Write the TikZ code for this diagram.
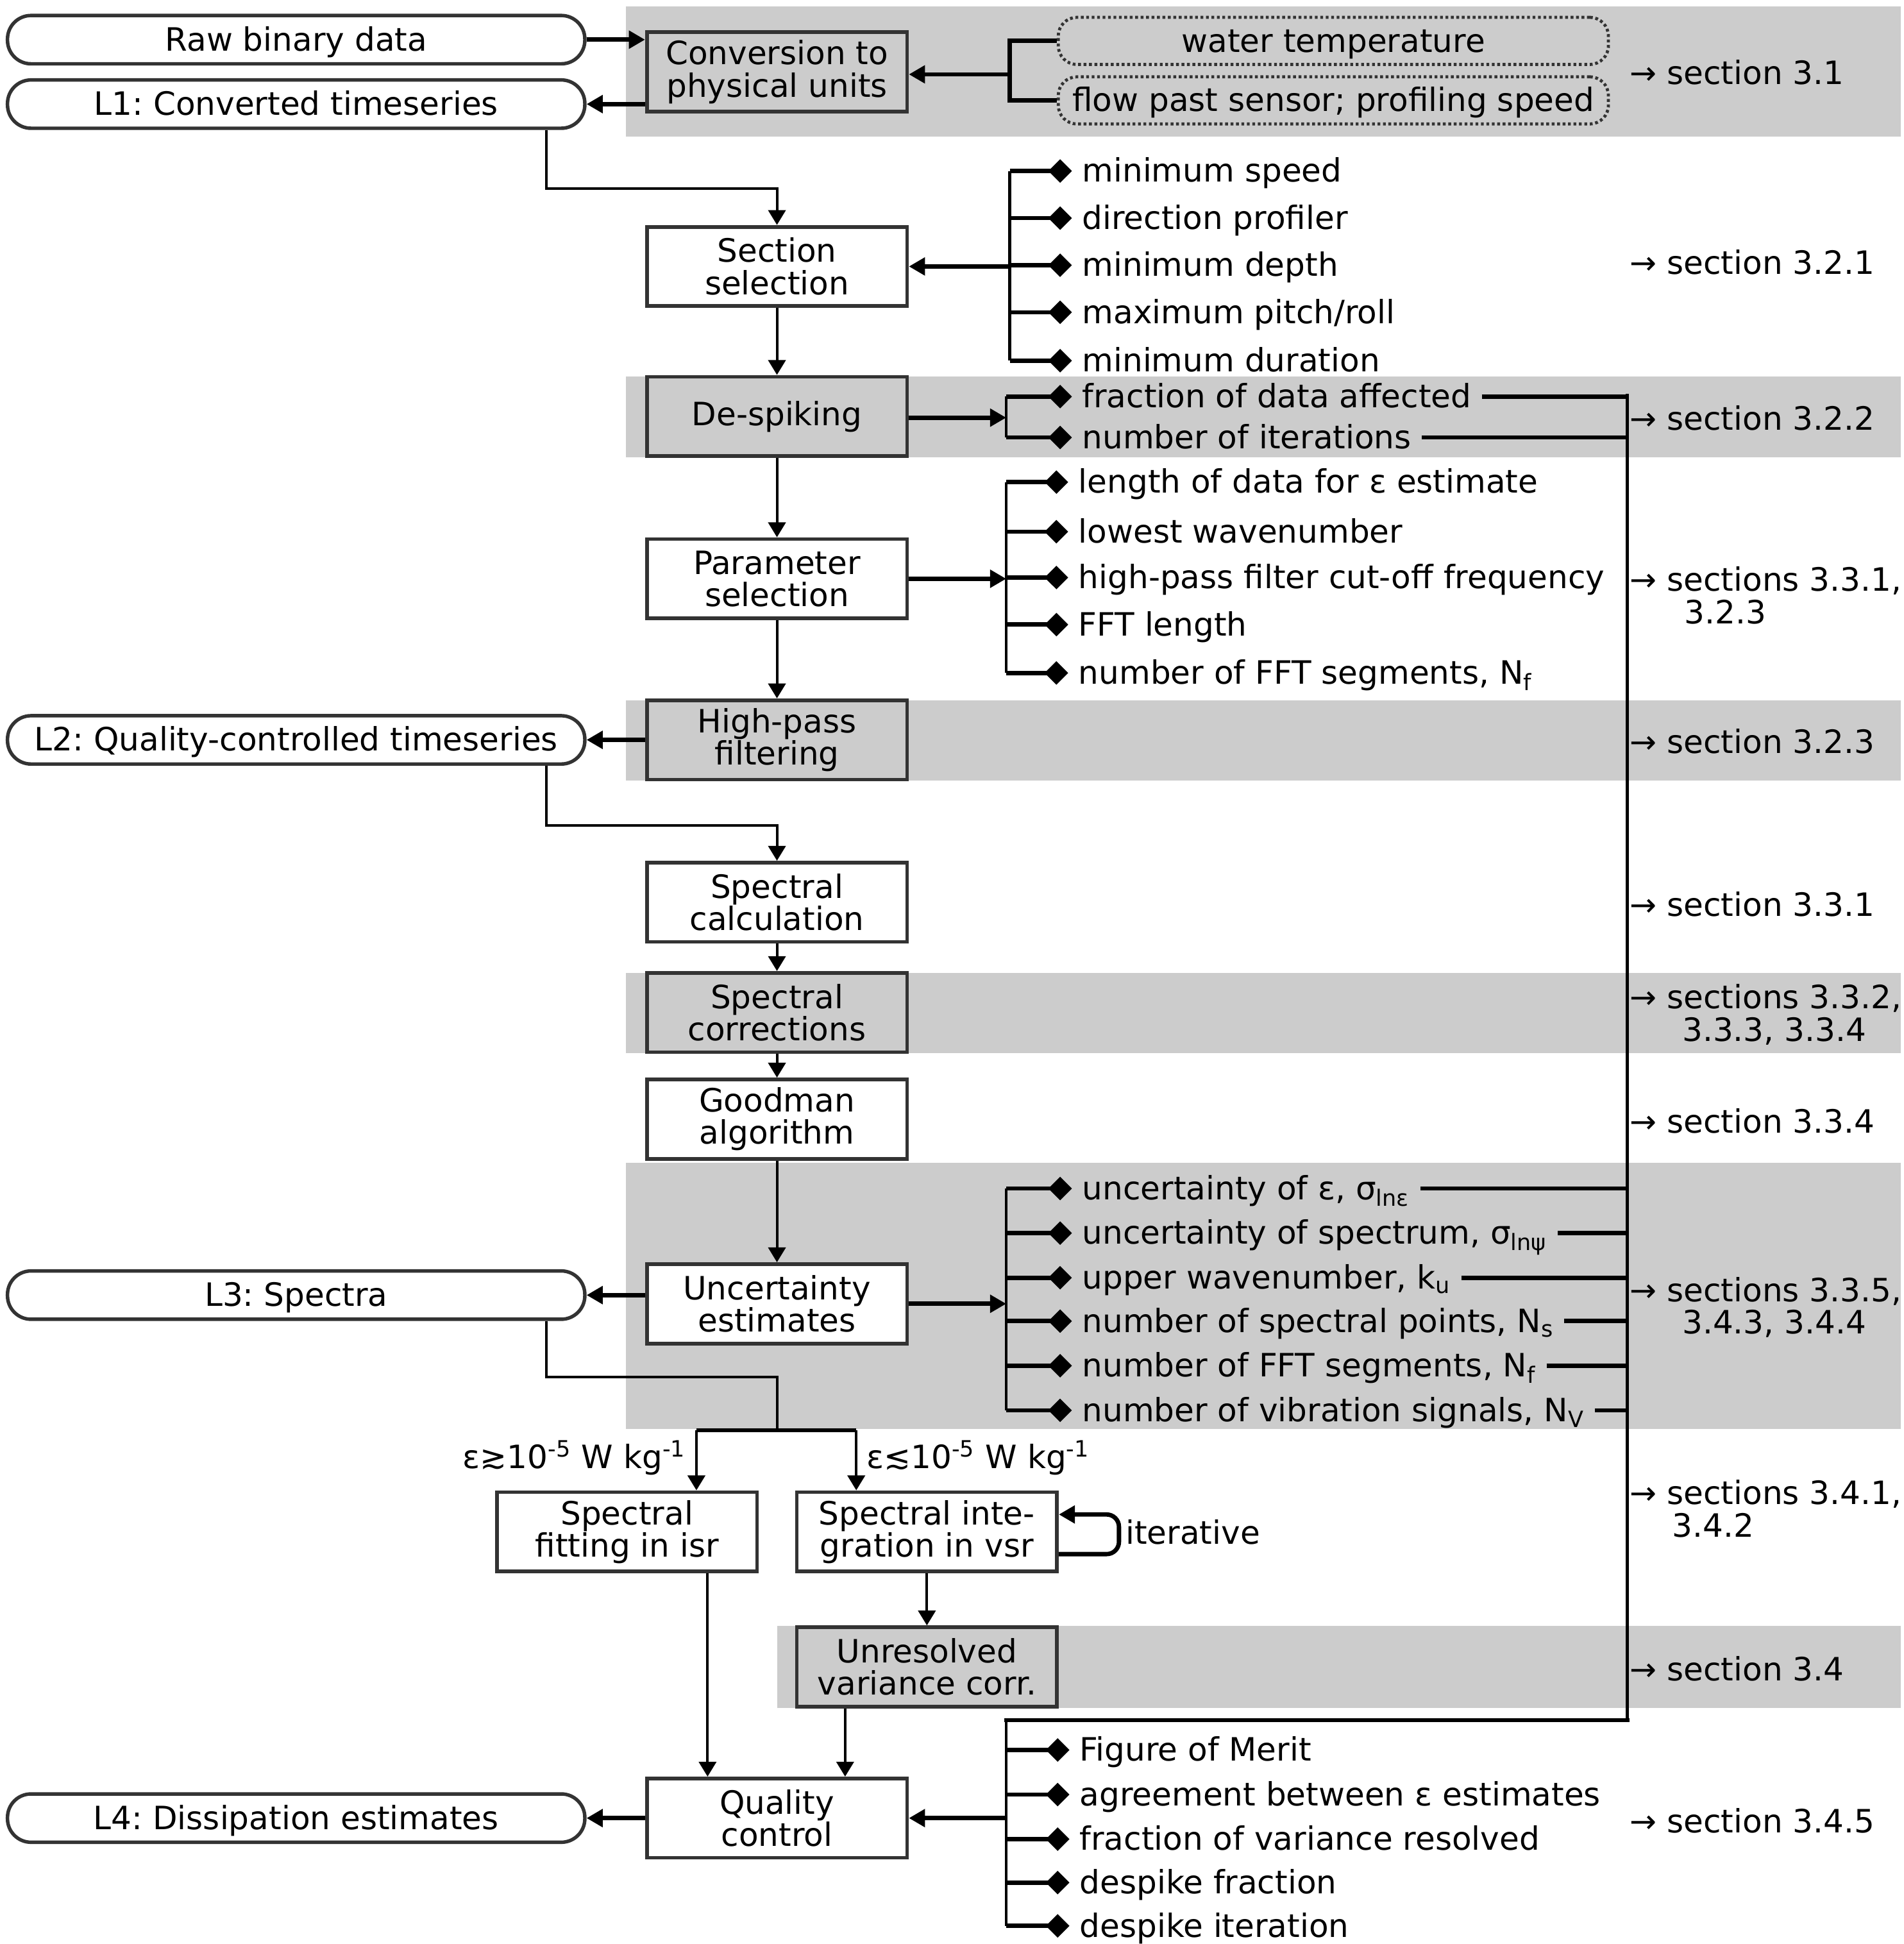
\documentclass[tikz,border=0pt]{standalone}
\usepackage{fontspec}
\setmainfont{DejaVu Sans}
\usetikzlibrary{arrows.meta}
\definecolor{band}{gray}{0.8}
\definecolor{edge}{gray}{0.2}

\begin{document}
\begin{tikzpicture}[x=0.02cm,y=-0.02cm,
  every node/.style={font=\fontsize{14.75pt}{14.8pt}\selectfont\frenchspacing},
  proc/.style={draw=edge,line width=1.7pt,fill=white,minimum width=4.2cm,minimum height=1.28cm,inner sep=0pt,align=center},
  procg/.style={proc,fill=band},
  term/.style={draw=edge,line width=1.6pt,fill=white,rounded corners=0.38cm,minimum width=9.32cm,minimum height=0.78cm,inner sep=0pt,text height=12.2pt,text depth=2pt},
  opt/.style={draw=edge,line width=1.4pt,dash pattern=on 1.3pt off 1.2pt,rounded corners=0.3cm,minimum width=8.88cm,minimum height=0.76cm,inner sep=0pt,text height=12.2pt,text depth=2pt},
  item/.style={anchor=west,inner xsep=0.16cm,inner ysep=0pt,text height=12.2pt,text depth=2pt},
  sec/.style={anchor=north west,inner sep=0pt,align=left},
  arr/.style={line width=1.2pt,-{Triangle[length=0.24cm,width=0.28cm]}},
  arrthick/.style={line width=2pt,-{Triangle[length=0.26cm,width=0.28cm]}},
  leaf/.style={line width=2pt,-{Diamond[length=0.38cm,width=0.38cm]}},
  brace/.style={line width=1.4pt},
  feed/.style={line width=2pt}]
\useasboundingbox (0,0) rectangle (1536,1568.6);

% grey bands
\foreach \xa/\ya/\yb in {505/5/110, 505/304/369, 505/565/630, 505/785/850, 505/938/1153, 627/1312/1378}
  \fill[band] (\xa,\ya) rectangle (1534,\yb);

% data levels
\node[term] (raw) at (239,32) {Raw binary data};
\node[term] (l1) at (239,84) {L1: Converted timeseries};
\node[term] (l2) at (239,597) {L2: Quality-controlled timeseries};
\node[term] (l3) at (239,1045) {L3: Spectra};
\node[term] (l4) at (239,1467) {L4: Dissipation estimates};

% processing steps
\node[procg] (conv) at (627,58) {Conversion to\\physical units};
\node[proc] (sel) at (627,215) {Section\\selection};
\node[procg] (dsp) at (627,336) {De-spiking};
\node[proc] (par) at (627,467) {Parameter\\selection};
\node[procg] (hp) at (627,597) {High-pass\\filtering};
\node[proc] (spc) at (627,728) {Spectral\\calculation};
\node[procg] (cor) at (627,817) {Spectral\\corrections};
\node[proc] (gdm) at (627,903) {Goodman\\algorithm};
\node[proc] (unc) at (627,1052) {Uncertainty\\estimates};
\node[proc] (fit) at (506,1236) {Spectral\\fitting in isr};
\node[proc] (int) at (748,1236) {Spectral inte-\\gration in vsr};
\node[procg] (unr) at (748,1345) {Unresolved\\variance corr.};
\node[proc] (qc) at (627,1467) {Quality\\control};

\node[opt] (wt) at (1076,33) {water temperature};
\node[opt] (fp) at (1076,81) {flow past sensor; profiling speed};

% main flow
\draw[arrthick] (raw.east) -- (raw.east -| conv.west);
\draw[arrthick] (conv.west |- l1.east) -- (l1.east);
\draw[feed] (wt.west) -- (815,33) -- (815,81) -- (fp.west);
\draw[arrthick] (815,60) -- (conv.east |- 0,60);
\draw[arr] (l1.south -| 441,0) -- (441,152) -| (sel.north);
\draw[arr] (sel.south) -- (dsp.north);
\draw[arr] (dsp.south) -- (par.north);
\draw[arr] (par.south) -- (hp.north);
\draw[arrthick] (hp.west) -- (l2.east);
\draw[arr] (l2.south -| 441,0) -- (441,666) -| (spc.north);
\draw[arr] (spc.south) -- (cor.north);
\draw[arr] (cor.south) -- (gdm.north);
\draw[arr] (gdm.south) -- (unc.north);
\draw[arrthick] (unc.west |- l3.east) -- (l3.east);
\draw[line width=1.2pt] (l3.south -| 441,0) -- (441,1111) -| (627,1154);
\draw[feed] (562,1154) -- (691,1154);
\draw[arr] (562,1154) -- (fit.north -| 562,0);
\draw[arr] (691,1154) -- (int.north -| 691,0);
\node[item,anchor=east,inner xsep=0.1cm] (hi) at (559,1176) {ε≳10\textsuperscript{-5} W kg\textsuperscript{-1}};
\node[item,inner xsep=0.1cm] (lo) at (694,1176) {ε≲10\textsuperscript{-5} W kg\textsuperscript{-1}};
\draw[line width=2pt,rounded corners=0.2cm,-{Triangle[length=0.26cm,width=0.28cm]}] (int.east |- 0,1254) -- (903,1254) -- (903,1222) -- (int.east |- 0,1222);
\node[item,inner xsep=0.1cm] (itr) at (903,1237) {iterative};
\draw[arr] (int.south) -- (unr.north);
\draw[arr] (fit.south -| 571,0) -- (qc.north -| 571,0);
\draw[arr] (unr.south -| 682,0) -- (qc.north -| 682,0);
\draw[arrthick] (qc.west) -- (l4.east);

% parameter lists
\draw[brace] (815,138) -- (815,291);
\draw[arrthick] (815,215) -- (sel.east |- 0,215);
\foreach \t/\y [count=\i] in {minimum speed/138, direction profiler/176, minimum depth/214, {maximum pitch/roll}/252, minimum duration/291}
  {\node[item] (ss\i) at (865,\y) {\t}; \draw[leaf] (815,\y) -- (ss\i.west);}

\draw[brace] (812,320) -- (812,353);
\draw[arrthick] (dsp.east |- 0,337) -- (812,337);
\foreach \t/\y [count=\i] in {fraction of data affected/320, number of iterations/353}
  {\node[item] (ds\i) at (865,\y) {\t}; \draw[leaf] (812,\y) -- (ds\i.west);
   \draw[feed] (ds\i.east) -- (1313,\y);}

\draw[brace] (812,389) -- (812,543);
\draw[arrthick] (par.east) -- (812,467);
\foreach \t/\y [count=\i] in {length of data for ε estimate/389, lowest wavenumber/429, high-pass filter cut-off frequency/466, FFT length/504, {number of FFT segments, N\textsubscript{f}}/543}
  {\node[item] (ps\i) at (862,\y) {\t}; \draw[leaf] (812,\y) -- (ps\i.west);}

\draw[brace] (812,959) -- (812,1138);
\draw[arrthick] (unc.east) -- (812,1052);
\foreach \t/\y [count=\i] in {{uncertainty of ε, σ\textsubscript{lnε}}/959, {uncertainty of spectrum, σ\textsubscript{lnψ}}/995, {upper wavenumber, k\textsubscript{u}}/1031, {number of spectral points, N\textsubscript{s}}/1066, {number of FFT segments, N\textsubscript{f}}/1102, {number of vibration signals, N\textsubscript{V}}/1138}
  {\node[item] (us\i) at (865,\y) {\t}; \draw[leaf] (812,\y) -- (us\i.west);
   \draw[feed] (us\i.east) -- (1313,\y);}

% collector to quality control
\coordinate (ctop) at (1313,318);
\coordinate (cbot) at (1313,1388);
\draw[brace] (ctop) -- (cbot);
\draw[feed,line cap=rect] (cbot) -- (812,1388);
\draw[brace] (812,1388) -- (812,1554);
\draw[arrthick] (812,1467) -- (qc.east);
\foreach \t/\y [count=\i] in {Figure of Merit/1412, agreement between ε estimates/1448, fraction of variance resolved/1484, despike fraction/1519, despike iteration/1554}
  {\node[item] (qs\i) at (863,\y) {\t}; \draw[leaf] (812,\y) -- (qs\i.west);}

% section references
\foreach \t/\y [count=\i] in {section 3.1/58, section 3.2.1/211, section 3.2.2/337, {sections 3.3.1,\\\hspace*{1.7em}3.2.3}/467, section 3.2.3/598, section 3.3.1/729, {sections 3.3.2,\\\hspace*{1.63em}3.3.3, 3.3.4}/804, section 3.3.4/904, {sections 3.3.5,\\\hspace*{1.63em}3.4.3, 3.4.4}/1040, {sections 3.4.1,\\\hspace*{1.32em}3.4.2}/1204, section 3.4/1346, section 3.4.5/1469}
  \node[sec] (sr\i) at (1315,\y-10) {→ \t};
\end{tikzpicture}
\end{document}
